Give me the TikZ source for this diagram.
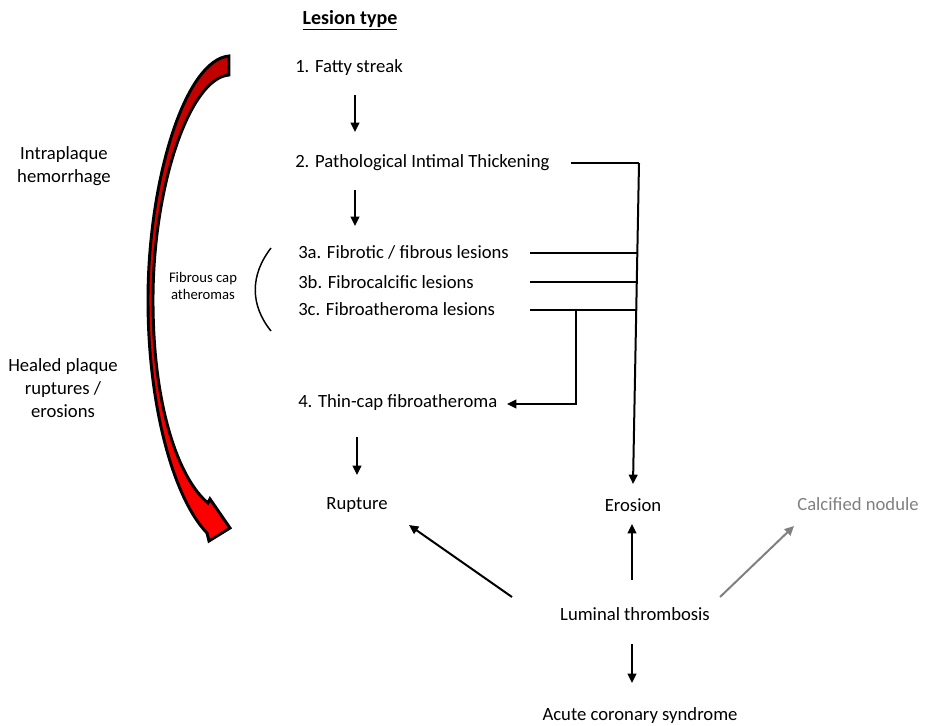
\documentclass[tikz,border=0pt]{standalone}
\usepackage{fontspec}
\setmainfont{Carlito}
\usetikzlibrary{arrows.meta}
\definecolor{greytxt}{HTML}{808080}
\definecolor{darkred}{HTML}{C00000}
\tikzset{
  lbl/.style={inner sep=0pt, font=\fontsize{14}{17}\selectfont},
  smalllbl/.style={inner sep=0pt, align=center, font=\fontsize{11}{12.75}\selectfont},
  sidelbl/.style={inner sep=0pt, align=center, font=\fontsize{14}{17.5}\selectfont},
  conn/.style={line width=1.5pt, -{Triangle[length=7pt,width=6.5pt]}},
  plain/.style={line width=1.5pt},
}
\begin{document}
\begin{tikzpicture}[x=0.75pt,y=-0.75pt]
\useasboundingbox (0,0) rectangle (934,725);

% texts
\node[lbl, font=\bfseries\fontsize{15}{17}\selectfont] (title) at (350,20) {\underline{Lesion type}};
\node[lbl, anchor=west] (fatty) at (295,68) {1. Fatty streak};
\node[lbl, anchor=west] (pit) at (295,163) {2. Pathological Intimal Thickening};
\node[lbl, anchor=west] (l3a) at (298,252) {3a. Fibrotic / fibrous lesions};
\node[lbl, anchor=west] (l3b) at (298,282) {3b. Fibrocalcific lesions};
\node[lbl, anchor=west] (l3c) at (298,309) {3c. Fibroatheroma lesions};
\node[lbl, anchor=west] (tcfa) at (298,403) {4. Thin-cap fibroatheroma};
\node[lbl] (rupture) at (357,505) {Rupture};
\node[lbl] (erosion) at (633,505) {Erosion};
\node[lbl, text=greytxt] (calc) at (858,504) {Calcified nodule};
\node[lbl] (lum) at (635,614) {Luminal thrombosis};
\node[lbl] (acs) at (640,716) {Acute coronary syndrome};
\node[smalllbl] (fca) at (203,286) {Fibrous cap\\atheromas};
\node[sidelbl] (iph) at (64,166) {Intraplaque\\hemorrhage};
\node[sidelbl] (hpr) at (63,388) {Healed plaque\\ruptures /\\erosions};

% connector coordinates
\coordinate (a1s) at (355,95);  \coordinate (a1e) at (355,132);
\coordinate (a2s) at (355,190); \coordinate (a2e) at (355,226);
\coordinate (pitR) at (571,163); \coordinate (vTop) at (639,163);
\coordinate (vBot) at (633,484);
\coordinate (r3a) at (530,253); \coordinate (j3a) at (637.3,253);
\coordinate (r3b) at (530,282); \coordinate (j3b) at (636.8,282);
\coordinate (r3c) at (530,310); \coordinate (j3c) at (636.2,310);
\coordinate (br) at (576,310); \coordinate (brB) at (576,404);
\coordinate (tcfaE) at (507,404);
\coordinate (a4s) at (357,437); \coordinate (a4e) at (357,475);
\coordinate (lumL) at (512,597); \coordinate (rupE) at (409,525);
\coordinate (lumU) at (632,580); \coordinate (eroE) at (632,524);
\coordinate (lumR) at (720,597); \coordinate (calE) at (794,526);
\coordinate (lumD) at (632,644); \coordinate (acsE) at (632,683);

% connectors
\draw[conn] (a1s) -- (a1e);
\draw[conn] (a2s) -- (a2e);
\draw[plain] (pitR) -- (vTop);
\draw[conn] (vTop) -- (vBot);
\draw[plain] (r3a) -- (j3a);
\draw[plain] (r3b) -- (j3b);
\draw[plain] (r3c) -- (j3c);
\draw[conn] (br) -- (brB) -- (tcfaE);
\draw[conn] (a4s) -- (a4e);
\draw[conn] (lumL) -- (rupE);
\draw[conn] (lumU) -- (eroE);
\draw[conn, draw=greytxt, fill=greytxt] (lumR) -- (calE);
\draw[conn] (lumD) -- (acsE);

% bracket
\draw[line width=1.1pt] (271,248) .. controls (250,275) and (250,305) .. (271,331);

% red curved arrow
\path[draw=black, line width=2.2pt, line join=miter, top color=darkred, bottom color=red]
  (229,56) .. controls (185,60) and (148,180) .. (148,300)
  .. controls (148,410) and (175,500) .. (207,533)
  -- (209,541) -- (230,528) -- (210,499) -- (208,503)
  .. controls (180,480) and (153,410) .. (153,300)
  .. controls (153,185) and (190,78) .. (229,75) -- cycle;
\end{tikzpicture}
\end{document}
